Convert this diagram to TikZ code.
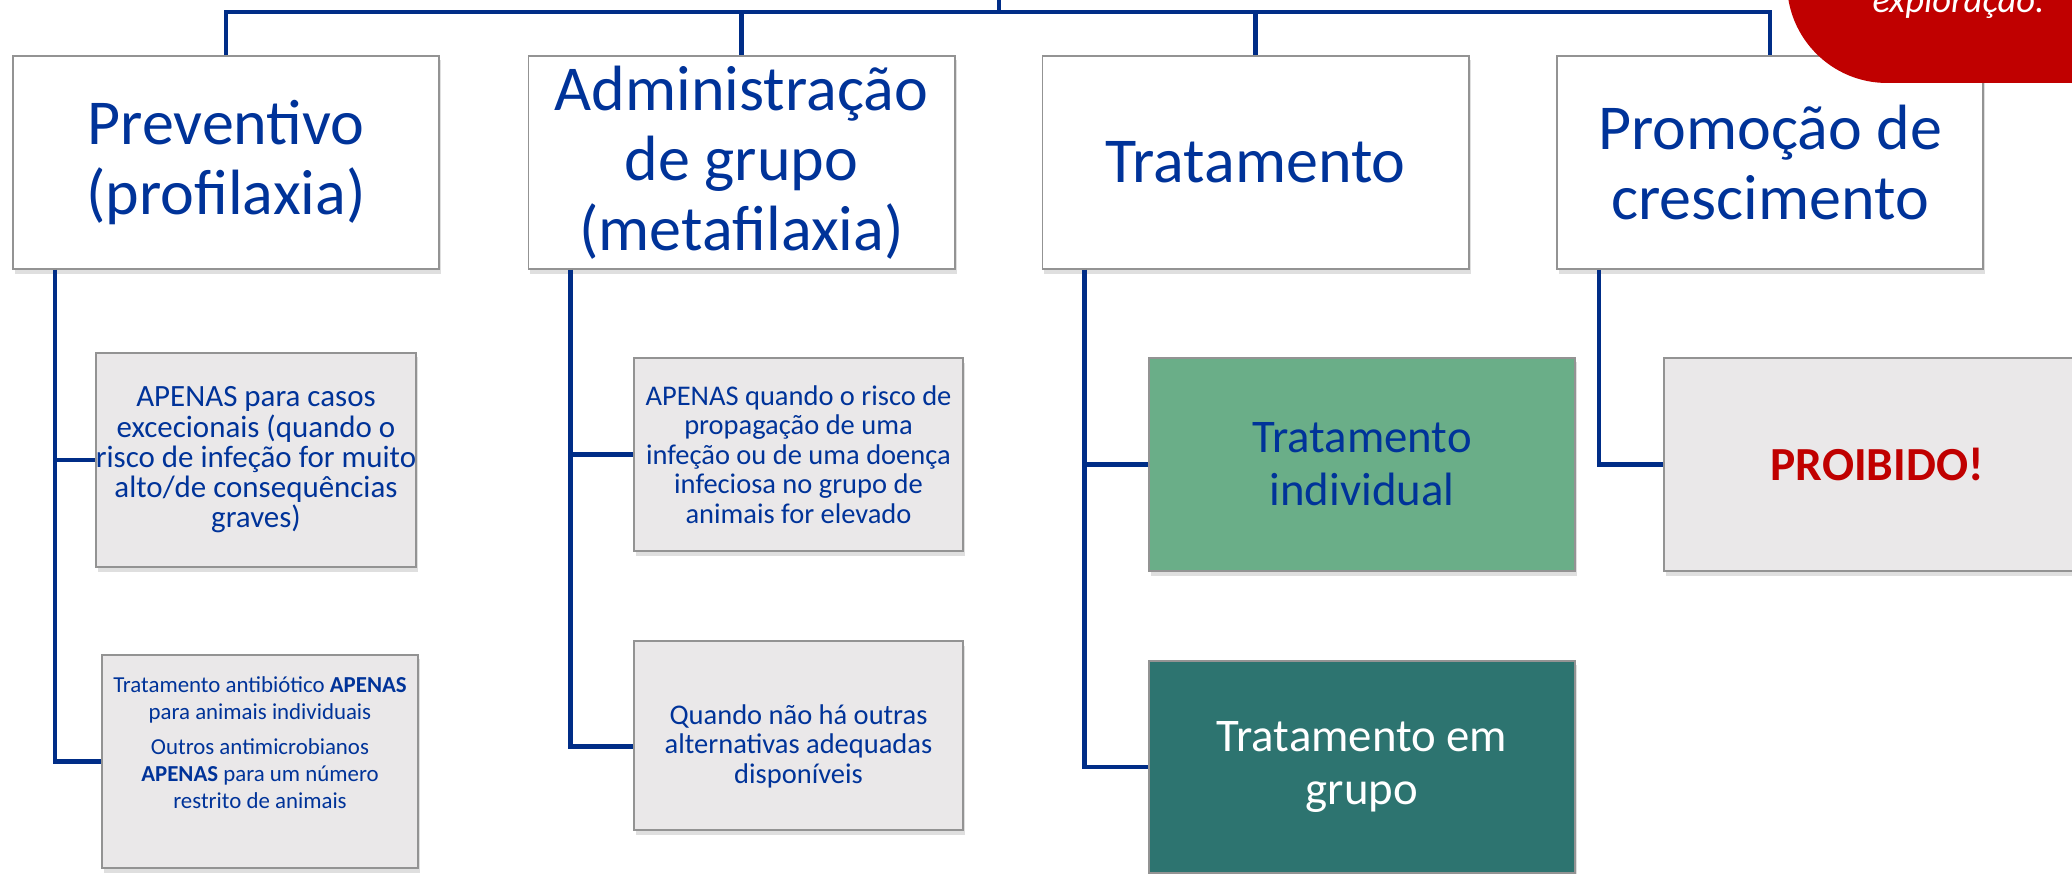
\documentclass[tikz,border=0pt]{standalone}
\usepackage{fontspec}
\setmainfont{Carlito}
\usepackage{xcolor}
\usetikzlibrary{shadows}
\definecolor{ttblue}{RGB}{0,51,153}
\definecolor{linkblue}{RGB}{0,45,135}
\definecolor{boxgray}{RGB}{234,232,233}
\definecolor{indgreen}{RGB}{106,174,136}
\definecolor{grpteal}{RGB}{45,116,112}
\definecolor{alertred}{RGB}{192,0,0}
\tikzset{
  link/.style={draw=linkblue, line width=1.4pt},
  shade box/.style={drop shadow={shadow xshift=0.6pt, shadow yshift=-1.3pt, opacity=0.25}},
  topbox/.style={draw=gray!85, line width=0.5pt, fill=white, shade box,
    minimum width=4.26cm, minimum height=2.13cm, inner sep=0pt, align=center,
    text=ttblue, font=\fontsize{18.2}{19.9}\selectfont},
  subbox/.style={draw=gray!85, line width=0.5pt, fill=boxgray, shade box,
    inner sep=0pt, align=center, text=ttblue},
  subtext/.style={inner sep=0pt, align=center, text=ttblue}
}
\begin{document}
\begin{tikzpicture}[x=0.01cm, y=-0.01cm]

\useasboundingbox (0,0) rectangle (2072,874);
\clip (0,0) rectangle (2072,874);

% Top row
\coordinate (root) at (999,0);
\coordinate (bus) at (999,12);
\node[topbox] (prev)  at (226,162.5)  {Preventivo\\(profilaxia)};
\node[topbox] (admin) at (741.5,162.5) {Administração\\de grupo\\(metafilaxia)};
\node[topbox] (trat)  at (1255.5,162.5) {Tratamento};
\node[topbox] (promo) at (1770,162.5) {Promoção de\\crescimento};

% Second row
\node[subbox, minimum width=3.2cm, minimum height=2.14cm,
  font=\fontsize{8.8}{8.6}\selectfont] (prevA) at (256,460)
  {APENAS para casos\\excecionais (quando o\\risco de infeção for muito\\alto/de consequências\\graves)};
\node[subbox, minimum width=3.16cm, minimum height=2.13cm] (prevB) at (260,761.5) {};
\node[subtext, font=\fontsize{6.5}{7.7}\selectfont] at ([yshift=5.4pt]prevB.center)
  {Tratamento antibiótico \textbf{APENAS}\\para animais individuais\\[2.3pt]
   Outros antimicrobianos\\\textbf{APENAS} para um número\\restrito de animais};

\node[subbox, minimum width=3.29cm, minimum height=1.93cm,
  font=\fontsize{8.1}{8.4}\selectfont] (adminA) at (798.5,454.5)
  {APENAS quando o risco de\\propagação de uma\\infeção ou de uma doença\\infeciosa no grupo de\\animais for elevado};
\node[subbox, minimum width=3.29cm, minimum height=1.89cm] (adminB) at (798.5,735.5) {};
\node[subtext, font=\fontsize{8.1}{8.4}\selectfont] at ([yshift=-3pt]adminB.center)
  {Quando não há outras\\alternativas adequadas\\disponíveis};

\node[subbox, fill=indgreen, minimum width=4.26cm, minimum height=2.13cm,
  font=\fontsize{13.3}{15}\selectfont] (tratInd) at (1362,464.5) {Tratamento\\individual};
\node[subbox, fill=grpteal, text=white, minimum width=4.26cm, minimum height=2.12cm,
  font=\fontsize{13.3}{15}\selectfont] (tratGrp) at (1362,767) {Tratamento em\\grupo};

\node[subbox, minimum width=4.26cm, minimum height=2.13cm, text=alertred,
  font=\fontsize{13.5}{15}\selectfont\bfseries] (proib) at (1877,464.5) {PROIBIDO!};

% Connectors
\draw[link] (root) -- (bus);
\draw[link] (prev.north) |- (bus) -| (promo.north);
\draw[link] (admin.north) -- (admin.north |- bus);
\draw[link] (trat.north) -- (trat.north |- bus);

\draw[link] ([xshift=0.43cm]prev.south west) |- (prevA.west);
\draw[link] ([xshift=0.43cm]prev.south west) |- (prevB.west);
\draw[link] ([xshift=0.43cm]admin.south west) |- (adminA.west);
\draw[link] ([xshift=0.43cm]admin.south west) |- ([yshift=-3pt]adminB.west);
\draw[link] ([xshift=0.43cm]trat.south west) |- (tratInd.west);
\draw[link] ([xshift=0.43cm]trat.south west) |- (tratGrp.west);
\draw[link] ([xshift=0.43cm]promo.south west) |- (proib.west);

% Red note, top right
\fill[alertred, rounded corners=1cm] (1787,-300) rectangle (2200,83);
\node[anchor=base east, inner sep=0pt, text=white,
  font=\fontsize{10.4}{12}\selectfont\itshape] (note) at (2045,13) {exploração.};

\end{tikzpicture}
\end{document}
